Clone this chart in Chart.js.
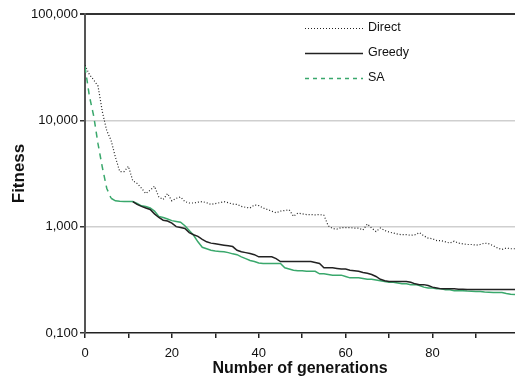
<!DOCTYPE html>
<html lang="en">
<head>
    <script src="https://cdn.jsdelivr.net/npm/chart.js"></script>
    <style>
        body { margin: 0; background: #fff; }
    </style>
</head>
<body>

    <canvas id="fitnessChart" width="515" height="383"></canvas>

    <script>
        // generations 0..99
        const generations = Array.from({ length: 100 }, (_, i) => i);

        const seriesNames = ["Direct", "Greedy", "SA"];

        const directValues = [
            33, 27, 24, 21, 12, 8, 6.5, 4.5, 3.3, 3.3,
            3.7, 2.7, 2.55, 2.3, 2.05, 2.2, 2.4, 1.9, 1.8, 2.05,
            1.75, 1.85, 1.9, 1.72, 1.67, 1.67, 1.7, 1.72, 1.68, 1.62,
            1.65, 1.68, 1.72, 1.68, 1.63, 1.62, 1.55, 1.52, 1.5, 1.6,
            1.58, 1.5, 1.45, 1.4, 1.35, 1.4, 1.42, 1.44, 1.25, 1.34,
            1.32, 1.3, 1.3, 1.29, 1.3, 1.28, 1.02, 0.96, 0.95, 0.98,
            0.98, 0.98, 0.97, 0.97, 0.93, 1.06, 0.97, 0.9, 0.97, 0.92,
            0.89, 0.87, 0.85, 0.84, 0.84, 0.83, 0.84, 0.88, 0.82, 0.78,
            0.77, 0.74, 0.74, 0.72, 0.7, 0.73, 0.7, 0.69, 0.68, 0.68,
            0.67, 0.68, 0.7, 0.69, 0.66, 0.63, 0.61, 0.63, 0.62, 0.62
        ];

        // hidden under the SA line for the first generations
        const greedyValues = [
            null, null, null, null, null, null, null, null, null, null,
            null, 1.72, 1.62, 1.55, 1.5, 1.45, 1.32, 1.22, 1.15, 1.13,
            1.08, 1.0, 0.98, 0.96, 0.88, 0.84, 0.81, 0.76, 0.72, 0.7,
            0.69, 0.68, 0.67, 0.66, 0.65, 0.6, 0.58, 0.57, 0.56, 0.545,
            0.52, 0.52, 0.52, 0.52, 0.5, 0.47, 0.47, 0.47, 0.47, 0.47,
            0.47, 0.47, 0.47, 0.46, 0.45, 0.41, 0.41, 0.41, 0.405, 0.4,
            0.4, 0.39, 0.385, 0.38, 0.37, 0.365, 0.355, 0.34, 0.32, 0.31,
            0.305, 0.305, 0.305, 0.305, 0.305, 0.3, 0.29, 0.285, 0.285, 0.28,
            0.27, 0.265, 0.26, 0.26, 0.26, 0.26, 0.258, 0.258, 0.257, 0.257,
            0.257, 0.257, 0.257, 0.257, 0.257, 0.257, 0.257, 0.257, 0.257, 0.257
        ];

        const saValues = [
            32, 17, 11, 6, 3.6, 2.3, 1.85, 1.75, 1.73, 1.72,
            1.72, 1.72, 1.65, 1.57, 1.55, 1.5, 1.4, 1.25, 1.22, 1.18,
            1.14, 1.12, 1.1, 1.02, 0.92, 0.83, 0.72, 0.64, 0.62, 0.6,
            0.59, 0.585, 0.58, 0.57, 0.555, 0.545, 0.52, 0.5, 0.48, 0.47,
            0.455, 0.45, 0.45, 0.45, 0.45, 0.45, 0.41, 0.4, 0.39, 0.385,
            0.385, 0.38, 0.38, 0.38, 0.36, 0.36, 0.355, 0.35, 0.35, 0.35,
            0.34, 0.33, 0.33, 0.33, 0.325, 0.32, 0.32, 0.315, 0.31, 0.305,
            0.3, 0.3, 0.295, 0.29, 0.29, 0.285, 0.285, 0.28, 0.27, 0.265,
            0.265, 0.26, 0.26, 0.255, 0.255, 0.25, 0.25, 0.25, 0.248, 0.247,
            0.245, 0.245, 0.243, 0.242, 0.24, 0.24, 0.24, 0.235, 0.232, 0.23
        ];

        const yTickValues = [0.1, 1, 10, 100];

        const GREEN = '#3aa86c';
        const FONT = "'Liberation Sans', Arial, sans-serif";

        // small legend drawn inside the plot, top right
        const insideLegend = {
            id: 'insideLegend',
            afterDatasetsDraw(chart) {
                const c = chart.ctx;
                const rows = [28, 53, 78];
                c.save();
                chart.data.datasets.forEach((ds, i) => {
                    const y = rows[i];
                    c.beginPath();
                    c.strokeStyle = ds.borderColor;
                    c.lineWidth = ds.borderWidth;
                    c.setLineDash(ds.legendDash || []);
                    c.moveTo(305, y + 0.5);
                    c.lineTo(363, y + 0.5);
                    c.stroke();
                    c.setLineDash([]);
                    c.fillStyle = '#111';
                    c.font = '12.5px ' + FONT;
                    c.textBaseline = 'middle';
                    c.fillText(ds.label, 368, y);
                });
                c.restore();
            }
        };

        const ctx = document.getElementById('fitnessChart').getContext('2d');

        new Chart(ctx, {
            type: 'line',
            data: {
                labels: generations,
                datasets: [
                    {
                        label: seriesNames[0],
                        data: directValues,
                        borderColor: '#222',
                        borderWidth: 1.2,
                        borderDash: [1, 2],
                        legendDash: [1, 2]
                    },
                    {
                        label: seriesNames[1],
                        data: greedyValues,
                        borderColor: '#222',
                        borderWidth: 1.5
                    },
                    {
                        label: seriesNames[2],
                        data: saValues,
                        borderColor: GREEN,
                        borderWidth: 1.5,
                        legendDash: [4, 4],
                        // Excel style: long steps show dashes, short steps look solid
                        segment: {
                            borderDash: s => Math.hypot(s.p1.x - s.p0.x, s.p1.y - s.p0.y) > 8 ? [6, 5] : []
                        }
                    }
                ]
            },
            options: {
                responsive: false,
                animation: false,
                elements: {
                    point: { radius: 0 },
                    line: { tension: 0 }
                },
                layout: { padding: { top: 14, right: 0, left: 0, bottom: 0 } },
                plugins: {
                    legend: { display: false },
                    tooltip: { enabled: false }
                },
                scales: {
                    x: {
                        type: 'linear',
                        min: 0,
                        max: 99,
                        afterFit: s => { s.height = 50; },
                        border: { display: true, color: '#222', width: 1.5 },
                        grid: {
                            drawOnChartArea: false,
                            tickLength: 5,
                            tickColor: '#222',
                            lineWidth: 1.5
                        },
                        ticks: {
                            stepSize: 10,
                            includeBounds: false,
                            autoSkip: false,
                            maxRotation: 0,
                            padding: 8,
                            color: '#111',
                            font: { family: FONT, size: 13 },
                            callback: v => (v % 20 === 0 ? String(v) : '')
                        },
                        title: {
                            display: true,
                            text: 'Number of generations',
                            color: '#111',
                            font: { family: FONT, size: 16, weight: 'bold' },
                            padding: { top: 0, bottom: 5 }
                        }
                    },
                    y: {
                        type: 'logarithmic',
                        min: 0.1,
                        max: 100,
                        afterFit: s => { s.width = 85; },
                        afterBuildTicks: s => { s.ticks = yTickValues.map(v => ({ value: v })); },
                        border: { display: true, color: '#555', width: 2 },
                        grid: {
                            color: c => (c.tick.value === 100 ? '#333' : c.tick.value === 0.1 ? 'rgba(0,0,0,0)' : '#cfcfcf'),
                            lineWidth: c => (c.tick.value === 100 ? 2 : 1.5),
                            tickColor: '#333',
                            tickLength: 5
                        },
                        ticks: {
                            padding: 2,
                            color: '#111',
                            font: { family: FONT, size: 13 },
                            callback: v => Number(v).toFixed(3).replace('.', ',')
                        },
                        title: {
                            display: true,
                            text: 'Fitness',
                            color: '#111',
                            font: { family: FONT, size: 17, weight: 'bold' },
                            padding: { top: 9, bottom: 0 }
                        }
                    }
                }
            },
            plugins: [insideLegend]
        });
    </script>

</body>
</html>
